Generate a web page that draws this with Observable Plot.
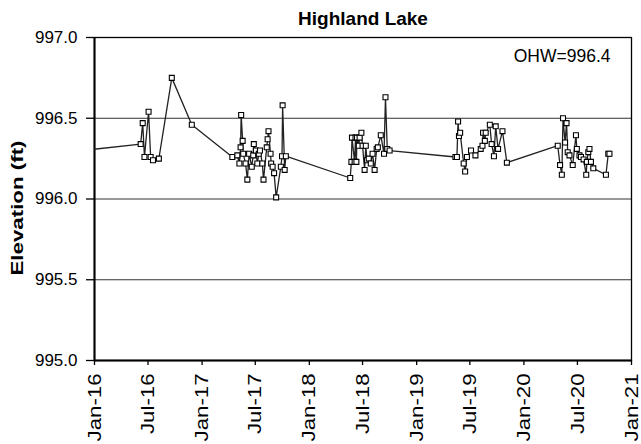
<!DOCTYPE html>
<html>
<head>
<meta charset="utf-8">
<script src="https://cdn.jsdelivr.net/npm/d3@7"></script>
<script src="https://cdn.jsdelivr.net/npm/@observablehq/plot@0.6"></script>
<style>
  html, body { margin: 0; padding: 0; background: white; }
</style>
</head>
<body>
<div id="chart"></div>
<script>
const title = "Highland Lake";
const yLabel = "Elevation (ft)";
const note = "OHW=996.4";

const dates = [
  "2015-10-01",
  "2016-06-06","2016-06-13","2016-06-19","2016-07-03","2016-07-10","2016-07-18","2016-08-07","2016-09-20","2016-11-27",
  "2017-04-14","2017-05-01","2017-05-08","2017-05-12","2017-05-14","2017-05-19","2017-05-21","2017-05-29","2017-06-04","2017-06-10",
  "2017-06-19","2017-06-24","2017-06-26","2017-07-03","2017-07-08","2017-07-13","2017-07-17","2017-07-25","2017-07-29","2017-08-09",
  "2017-08-12","2017-08-15","2017-08-22","2017-08-24","2017-08-29","2017-09-03","2017-09-10","2017-09-26","2017-09-30","2017-10-02",
  "2017-10-09","2017-10-13",
  "2018-05-20","2018-05-24","2018-05-26","2018-06-04","2018-06-07","2018-06-10","2018-06-12","2018-06-18","2018-06-21","2018-06-27",
  "2018-07-01","2018-07-08","2018-07-12","2018-07-16","2018-07-22","2018-07-29","2018-08-04","2018-08-11","2018-08-18","2018-08-22",
  "2018-09-01","2018-09-12","2018-09-17","2018-09-23","2018-10-01",
  "2019-05-13","2019-05-18","2019-05-22","2019-05-25","2019-05-29","2019-06-10","2019-06-15","2019-06-21","2019-07-05","2019-07-20",
  "2019-08-07","2019-08-13","2019-08-15","2019-08-21","2019-08-24","2019-09-07","2019-09-13","2019-09-21","2019-09-27","2019-10-05",
  "2019-10-20","2019-11-04",
  "2020-04-25","2020-05-03","2020-05-09","2020-05-13","2020-05-20","2020-05-25","2020-05-29","2020-06-04","2020-06-15","2020-06-26",
  "2020-06-29","2020-07-08","2020-07-13","2020-07-22","2020-07-31","2020-08-02","2020-08-07","2020-08-11","2020-08-16","2020-08-24",
  "2020-10-06","2020-10-14","2020-10-18"
];

const elevations = [
  996.29,
  996.34,996.47,996.26,996.54,996.26,996.24,996.25,996.75,996.46,
  996.26,996.27,996.22,996.32,996.52,996.36,996.28,996.22,996.12,996.28,
  996.20,996.27,996.34,996.30,996.22,996.28,996.30,996.22,996.12,996.32,
  996.37,996.42,996.28,996.22,996.20,996.16,996.01,996.20,996.265,996.58,
  996.18,996.265,
  996.13,996.23,996.38,996.23,996.38,996.23,996.38,996.33,996.38,996.41,
  996.33,996.18,996.33,996.24,996.25,996.22,996.28,996.18,996.31,996.32,
  996.395,996.28,996.63,996.31,996.30,
  996.26,996.26,996.48,996.39,996.41,996.22,996.17,996.26,996.30,996.27,
  996.31,996.33,996.41,996.36,996.41,996.46,996.34,996.265,996.45,996.31,
  996.42,996.225,
  996.33,996.21,996.15,996.50,996.35,996.47,996.29,996.27,996.21,996.395,
  996.31,996.27,996.26,996.245,996.15,996.23,996.29,996.31,996.23,996.19,
  996.15,996.28,996.28
];

const xDomain = ["2016-01-01", "2021-01-01"];
const yTicks = [995.0, 995.5, 996.0, 996.5, 997.0];
const gridValues = [995.5, 996.0, 996.5];

const parse = d3.utcParse("%Y-%m-%d");
const data = dates.map((d, i) => ({date: parse(d), value: elevations[i]}));
const x0 = parse(xDomain[0]), x1 = parse(xDomain[1]);
const xTicks = d3.utcMonth.every(6).range(x0, d3.utcDay.offset(x1, 1));

const chart = Plot.plot({
  width: 641,
  height: 444,
  marginLeft: 94,
  marginRight: 10,
  marginTop: 37,
  marginBottom: 84,
  style: {fontFamily: "'Liberation Sans', Arial, sans-serif", background: "white", color: "black", overflow: "visible"},
  x: {type: "utc", domain: [x0, x1]},
  y: {domain: [995, 997]},
  marks: [
    Plot.ruleY(gridValues, {stroke: "#333", strokeWidth: 1}),
    Plot.frame({stroke: "black", strokeWidth: 1.3}),
    Plot.ruleX([x0], {stroke: "black", strokeWidth: 2}),
    Plot.ruleY([995], {stroke: "black", strokeWidth: 2}),
    Plot.axisY({ticks: yTicks, tickFormat: d3.format(".1f"), tickSize: 8, tickPadding: 9, fontSize: 17, label: null, strokeWidth: 1.3}),
    Plot.axisX({ticks: xTicks, tickFormat: d3.utcFormat("%b-%y"), tickRotate: -90, tickSize: 5, tickPadding: 8, fontSize: 19, label: null, strokeWidth: 1.3}),
    Plot.line(data, {x: "date", y: "value", stroke: "#222", strokeWidth: 1.3, clip: true}),
    Plot.dot(data, {x: "date", y: "value", symbol: "square", r: 2.8, fill: "white", stroke: "black", strokeWidth: 1.1, clip: true}),
    Plot.text([title], {frameAnchor: "top", lineAnchor: "bottom", dy: -13, fontSize: 19, fontWeight: "bold"}),
    Plot.text([note], {frameAnchor: "top-right", textAnchor: "end", lineAnchor: "bottom", dx: -21, dy: 24, fontSize: 17.5}),
    Plot.text([yLabel], {frameAnchor: "left", textAnchor: "middle", lineAnchor: "middle", rotate: -90, dx: -77, dy: 9, fontSize: 17, fontWeight: "bold"})
  ]
});

document.getElementById("chart").appendChild(chart);

// Stretch the rotated labels along their length, as in the reference rendering
chart.querySelectorAll('g[aria-label="x-axis tick label"] text').forEach(t => {
  const tr = t.getAttribute("transform") || "";
  t.setAttribute("transform", tr + " scale(1.17,1)");
});
chart.querySelectorAll('text').forEach(t => {
  if (t.textContent === yLabel) {
    t.setAttribute("textLength", "135");
    t.setAttribute("lengthAdjust", "spacingAndGlyphs");
  }
});
</script>
</body>
</html>
